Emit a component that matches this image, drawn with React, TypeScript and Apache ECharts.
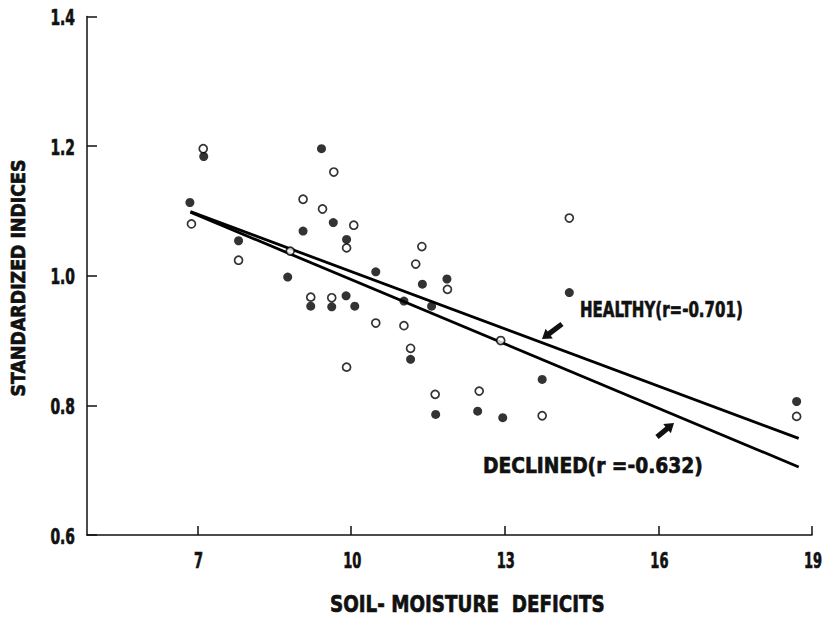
import React, { useEffect, useRef } from "react";
import * as echarts from "echarts";

const xTicks = [7, 10, 13, 16, 19];
const yTicks = [0.6, 0.8, 1.0, 1.2, 1.4];

// open circles
const healthyX = [7.11, 6.88, 7.8, 8.81, 9.06, 9.44, 9.66, 10.05, 9.91, 9.21, 9.62, 9.91, 10.48, 11.03, 11.16, 11.26, 11.38, 11.64, 11.88, 12.5, 12.92, 13.73, 14.26, 18.7];
const healthyY = [1.196, 1.08, 1.024, 1.038, 1.118, 1.103, 1.16, 1.078, 1.043, 0.967, 0.966, 0.859, 0.927, 0.923, 0.888, 1.018, 1.045, 0.817, 0.979, 0.822, 0.9, 0.784, 1.089, 0.783];
// filled circles
const declinedX = [6.85, 7.12, 7.8, 8.76, 9.06, 9.42, 9.65, 9.91, 9.21, 9.62, 9.9, 10.07, 10.48, 11.03, 11.16, 11.39, 11.57, 11.65, 11.87, 12.47, 12.96, 13.73, 14.26, 18.7];
const declinedY = [1.113, 1.184, 1.054, 0.998, 1.069, 1.196, 1.082, 1.056, 0.953, 0.952, 0.969, 0.953, 1.006, 0.961, 0.871, 0.987, 0.953, 0.786, 0.995, 0.791, 0.781, 0.84, 0.974, 0.806];

const healthyLineX = [6.86, 18.74];
const healthyLineY = [1.099, 0.749];
const declinedLineX = [6.86, 18.74];
const declinedLineY = [1.098, 0.705];

const xTitle = "SOIL- MOISTURE  DEFICITS";
const yTitle = "STANDARDIZED INDICES";
const healthyLabel = "HEALTHY(r=-0.701)";
const declinedLabel = "DECLINED(r =-0.632)";

const FAMILY = "'DejaVu Sans', sans-serif";

function measure(text: string, size: number) {
  const c = document.createElement("canvas").getContext("2d")!;
  c.font = `bold ${size}px ${FAMILY}`;
  return c.measureText(text).width;
}

function arrow(tail: number[], tip: number[]) {
  const dx = tip[0] - tail[0];
  const dy = tip[1] - tail[1];
  const len = Math.hypot(dx, dy);
  const ux = dx / len, uy = dy / len;
  const px = -uy, py = ux;
  const headLen = 9, headW = 6, shaftW = 2.6;
  const bx = tip[0] - ux * headLen, by = tip[1] - uy * headLen;
  return [
    [tail[0] + px * shaftW, tail[1] + py * shaftW],
    [bx + px * shaftW, by + py * shaftW],
    [bx + px * headW, by + py * headW],
    [tip[0], tip[1]],
    [bx - px * headW, by - py * headW],
    [bx - px * shaftW, by - py * shaftW],
    [tail[0] - px * shaftW, tail[1] - py * shaftW],
  ];
}

function textStyle(text: string, size: number, align: string) {
  return {
    text,
    font: `bold ${size}px ${FAMILY}`,
    fill: "#111",
    stroke: "#111",
    lineWidth: 0.7,
    align,
    verticalAlign: "middle",
  };
}

function fitText(text: string, size: number, width: number, x: number, y: number, align: string, extra: any = {}) {
  return {
    type: "text",
    x,
    y,
    scaleX: width / measure(text, size),
    ...extra,
    style: textStyle(text, size, align),
    z: 10,
  };
}

function scaledText(text: string, size: number, scale: number, x: number, y: number, align: string) {
  return {
    type: "text",
    x,
    y,
    scaleX: scale,
    style: textStyle(text, size, align),
    z: 10,
  };
}

export default function App() {
  const ref = useRef<HTMLDivElement>(null);
  useEffect(() => {
    document.body.style.margin = "0";
    const chart = echarts.init(ref.current!, null, { renderer: "svg" });
    const zip = (xs: number[], ys: number[]) => xs.map((x, i) => [x, ys[i]]);
    chart.setOption({
      animation: false,
      backgroundColor: "#fff",
      grid: { left: 87, right: 12, top: 16.5, bottom: 85 },
      xAxis: {
        type: "value",
        min: 4.84,
        max: 19,
        axisLine: { show: true, lineStyle: { color: "#111", width: 1.5 } },
        axisTick: { show: true, inside: true, length: 9, customValues: xTicks, lineStyle: { color: "#111", width: 1.5 } },
        axisLabel: { show: false },
        splitLine: { show: false },
      },
      yAxis: {
        type: "value",
        min: 0.6,
        max: 1.4,
        axisLine: { show: true, lineStyle: { color: "#111", width: 1.5 } },
        axisTick: { show: true, inside: true, length: 10, customValues: yTicks, lineStyle: { color: "#111", width: 1.5 } },
        axisLabel: { show: false },
        splitLine: { show: false },
      },
      series: [
        {
          name: "Healthy regression",
          type: "line",
          data: zip(healthyLineX, healthyLineY),
          symbol: "none",
          lineStyle: { color: "#000", width: 2.8 },
          z: 2,
        },
        {
          name: "Declined regression",
          type: "line",
          data: zip(declinedLineX, declinedLineY),
          symbol: "none",
          lineStyle: { color: "#000", width: 2.8 },
          z: 2,
        },
        {
          name: "Healthy",
          type: "scatter",
          data: zip(healthyX, healthyY),
          symbol: "circle",
          symbolSize: 8,
          itemStyle: { color: "#fff", borderColor: "#000", borderWidth: 1.7 },
          z: 3,
        },
        {
          name: "Declined",
          type: "scatter",
          data: zip(declinedX, declinedY),
          symbol: "circle",
          symbolSize: 9,
          itemStyle: { color: "#000", borderColor: "#000", borderWidth: 0 },
          z: 3,
        },
      ],
    });

    const graphics: any[] = [];
    xTicks.forEach((v) => {
      const px = chart.convertToPixel({ xAxisIndex: 0 }, v) as number;
      graphics.push(scaledText(String(v), 21, 0.62, px + 1, 561, "center"));
    });
    yTicks.forEach((v) => {
      const py = chart.convertToPixel({ yAxisIndex: 0 }, v) as number;
      graphics.push(scaledText(v.toFixed(1), 21, 0.66, 75, py + 1, "right"));
    });
    graphics.push(fitText(xTitle, 23, 275, 330, 604, "left"));
    graphics.push(fitText(yTitle, 19, 237, 18, 278, "center", { rotation: Math.PI / 2 }));
    graphics.push(fitText(healthyLabel, 22, 163, 580, 309, "left"));
    graphics.push(fitText(declinedLabel, 21, 220, 483, 466, "left"));
    graphics.push({ type: "polygon", shape: { points: arrow([562, 324], [542, 339]) }, style: { fill: "#111" } });
    graphics.push({ type: "polygon", shape: { points: arrow([657, 437], [674, 423]) }, style: { fill: "#111" } });
    chart.setOption({ graphic: graphics });

    return () => chart.dispose();
  }, []);
  return <div ref={ref} style={{ width: 824, height: 620 }} />;
}
